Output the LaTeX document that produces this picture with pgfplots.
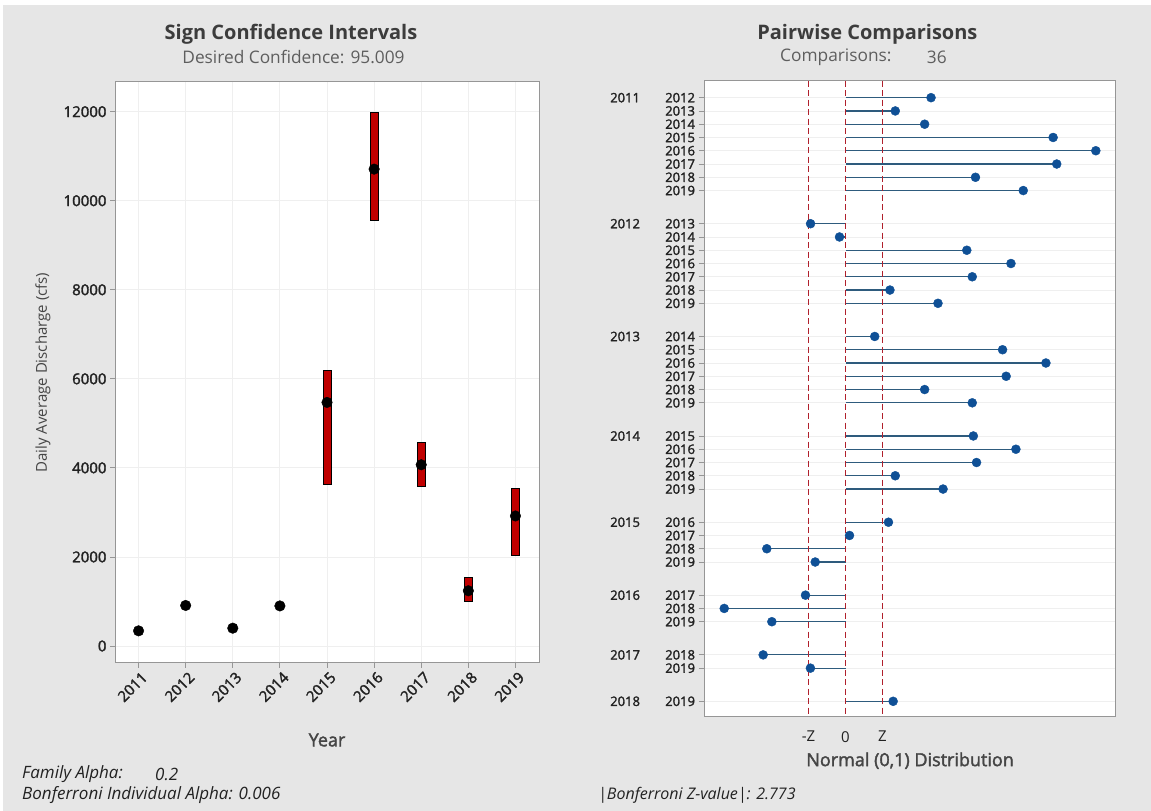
\documentclass[border=0pt]{standalone}
\usepackage{pgfplots}
\pgfplotsset{compat=1.18}
\usepackage{pgfplotstable}
\usepackage{fontspec}
\setmainfont{Open Sans}
\newfontfamily\semibold[FakeBold=2]{Open Sans}
\newcommand\fs[1]{\fontsize{#1bp}{#1bp}\selectfont}

\definecolor{panelbg}{HTML}{E6E6E6}
\definecolor{framegray}{HTML}{969696}
\definecolor{gridgray}{HTML}{EFEFEF}
\definecolor{titlegray}{HTML}{3C3C3C}
\definecolor{subgray}{HTML}{5E5E5E}
\definecolor{labelgray}{HTML}{454545}
\definecolor{tickgray}{HTML}{222222}
\definecolor{cired}{HTML}{C00000}
\definecolor{dotblue}{HTML}{0F5096}
\definecolor{stemblue}{HTML}{2E5B7D}
\definecolor{zred}{HTML}{B0202C}

% yearly medians of daily average discharge (cfs)
\pgfplotstableread{
i year med
0 2011 340
1 2012 910
2 2013 400
3 2014 900
4 2015 5470
5 2016 10710
6 2017 4070
7 2018 1240
8 2019 2920
}\medians

% sign confidence intervals for the median
\pgfplotstableread{
i lo hi
4 3640 6180
5 9550 11990
6 3580 4570
7 1000 1540
8 2040 3540
}\cis

% pairwise comparison statistics, row position and z
\pgfplotstableread{
pos z
0 6.41
1 3.73
2 5.93
3 15.56
4 18.76
5 15.83
6 9.74
7 13.32
9.5 -2.62
10.5 -0.45
11.5 9.09
12.5 12.40
13.5 9.50
14.5 3.33
15.5 6.93
18 2.19
19 11.77
20 15.02
21 12.04
22 5.93
23 9.50
25.5 9.58
26.5 12.77
27.5 9.82
28.5 3.73
29.5 7.31
32 3.22
33 0.30
34 -5.90
35 -2.27
37.5 -3.00
38.5 -9.09
39.5 -5.52
42 -6.17
43 -2.63
45.5 3.57
}\pw

\pgfplotsset{
  ciaxis/.style={
    at={(115bp,148bp)}, anchor=south west,
    scale only axis, width=424bp, height=581bp,
    xmin=-0.5, xmax=8.5, ymin=-382, ymax=12667,
  },
  zline/.style={draw=zred, color=zred, line width=1.3bp, dash pattern=on 6bp off 3.5bp, forget plot},
}

\begin{document}
\begin{tikzpicture}[x=1bp,y=1bp]
\path[use as bounding box, fill=white] (0,0) rectangle (1151,811);
\fill[panelbg] (3,0) rectangle (1151,806);

% ---- sign confidence intervals ----
\begin{axis}[
  ciaxis,
  ybar stacked, bar width=8bp,
  axis background/.style={fill=white},
  axis line style={framegray, line width=1bp},
  xtick={0,1,2,3,4,5,6,7,8},
  xticklabels={2011,2012,2013,2014,2015,2016,2017,2018,2019},
  ytick={0,2000,4000,6000,8000,10000,12000},
  scaled y ticks=false,
  tick align=outside, xtick pos=bottom, ytick pos=left,
  major tick length=5bp, tick style={framegray, line width=0.8bp},
  xmajorgrids, ymajorgrids, grid style={gridgray, line width=0.8bp},
  /pgf/number format/assume math mode=true,
  /pgf/number format/set thousands separator={},
  yticklabel style={font=\semibold\fs{15}, text=tickgray},
  xticklabel style={font=\semibold\fs{15}, text=tickgray, rotate=45, anchor=east, xshift=3bp, yshift=-9bp},
  xlabel={Year}, ylabel={Daily Average Discharge (cfs)},
  xlabel style={font=\semibold\fs{18}, text=labelgray, at={(axis description cs:0.5,-0.1325)}, anchor=center},
  ylabel style={font=\fs{15}, text=labelgray, at={(axis description cs:-0.170,0.5)}, anchor=center},
]
\addplot[draw=none, fill=none] table[x=i, y=lo] {\cis};
\addplot[fill=cired, draw=black, line width=0.8bp] table[x=i, y expr=\thisrow{hi}-\thisrow{lo}] {\cis};
\end{axis}

\begin{axis}[ciaxis, hide axis]
\addplot[only marks, mark=*, mark size=5.3bp, mark options={fill=black, draw=black}] table[x=i, y=med] {\medians};
\end{axis}

% ---- pairwise comparisons ----
\begin{axis}[
  at={(704.5bp,94.3bp)}, anchor=south west,
  scale only axis, width=411.2bp, height=636bp,
  xmin=-10.567, xmax=20.251, ymin=-1.28, ymax=46.66, y dir=reverse,
  axis background/.style={fill=white},
  axis line style={framegray, line width=1bp},
  xtick={-2.773,0,2.773}, xticklabels={-Z,0,Z},
  ytick={0,1,2,3,4,5,6,7,9.5,10.5,11.5,12.5,13.5,14.5,15.5,18,19,20,21,22,23,25.5,26.5,27.5,28.5,29.5,32,33,34,35,37.5,38.5,39.5,42,43,45.5},
  yticklabels={2012,2013,2014,2015,2016,2017,2018,2019,2013,2014,2015,2016,2017,2018,2019,2014,2015,2016,2017,2018,2019,2015,2016,2017,2018,2019,2016,2017,2018,2019,2017,2018,2019,2018,2019,2019},
  extra y ticks={0,9.5,18,25.5,32,37.5,42,45.5},
  extra y tick labels={2011,2012,2013,2014,2015,2016,2017,2018},
  extra y tick style={grid=none, major tick length=0pt, yticklabel style={xshift=-61bp}},
  tick align=outside, xtick pos=bottom, ytick pos=left,
  major tick length=6bp, xtick style={draw=none}, ytick style={framegray, line width=0.8bp},
  ymajorgrids, grid style={gridgray, line width=0.8bp},
  yticklabel style={font=\semibold\fs{13}, text=tickgray},
  xticklabel style={font=\fs{15}, text=tickgray, yshift=-5bp},
  xlabel={Normal (0,1) Distribution},
  xlabel style={font=\semibold\fs{18}, text=labelgray, at={(axis description cs:0.5,-0.0692)}, anchor=center},
]
\addplot[xcomb, draw=stemblue, line width=1.2bp] table[x=z, y=pos] {\pw};
% critical values -Z, 0 and Z  (|Z| = 2.773)
\addplot[zline] coordinates {(-2.773,-1.28) (-2.773,46.66)};
\addplot[zline] coordinates {(0,-1.28) (0,46.66)};
\addplot[zline] coordinates {(2.773,-1.28) (2.773,46.66)};
\addplot[only marks, mark=*, mark size=4.5bp, mark options={fill=dotblue, draw=dotblue}] table[x=z, y=pos] {\pw};
\end{axis}

% ---- titles and notes ----
\node[font=\bfseries\fs{20}, text=titlegray] at (291,777) {Sign Confidence Intervals};
\node[font=\fs{17.3}, text=subgray] at (293.5,754) {Desired Confidence: 95.009};
\node[font=\bfseries\fs{20}, text=titlegray] at (867.4,777) {Pairwise Comparisons};
\node[font=\fs{17.3}, text=subgray, anchor=west, inner sep=0pt] at (780,754) {Comparisons:};
\node[font=\fs{17.3}, text=subgray, anchor=west, inner sep=0pt] at (926.7,754) {36};

\node[font=\itshape\fs{17}, text=tickgray, anchor=west, inner sep=0pt] at (22,37) {Family Alpha:};
\node[font=\itshape\fs{17}, text=tickgray, anchor=west, inner sep=0pt] at (155,37) {0.2};
\node[font=\itshape\fs{17}, text=tickgray, anchor=west, inner sep=0pt] at (22,16) {Bonferroni Individual Alpha: 0.006};
\node[font=\itshape\fs{16}, text=tickgray, anchor=west, inner sep=0pt] at (598,16) {|Bonferroni Z-value|: 2.773};
\end{tikzpicture}
\end{document}
